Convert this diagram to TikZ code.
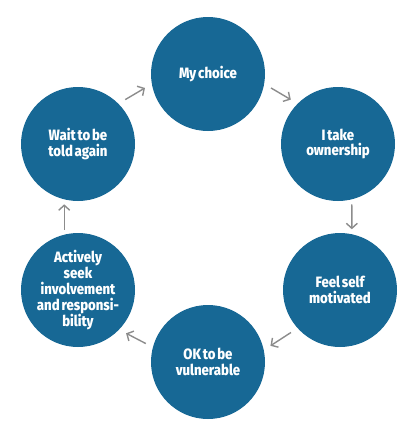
\documentclass[tikz,border=0pt]{standalone}
\usepackage{fontspec}
\setmainfont{Fira Sans}[FakeStretch=0.88,WordSpace=0.6,BoldFont={Fira Sans ExtraBold}]
\usetikzlibrary{arrows.meta}
\definecolor{stageblue}{HTML}{176895}
\definecolor{cyclegray}{HTML}{8C8C8C}

\begin{document}
\begin{tikzpicture}[x=1pt,y=-1pt,
  stage/.style={circle, fill=stageblue, minimum size=114pt, inner sep=0pt, outer sep=0pt,
    text=white, align=center, font=\fontsize{15}{15.8}\selectfont\bfseries},
  cyc/.style={draw=cyclegray, line width=1.4pt, -{Straight Barb[length=5pt,width=11pt]},
    shorten <=8pt, shorten >=8pt}]
\useasboundingbox (0,0) rectangle (410,432);
\node[stage] (choice) at (208,74)  {My choice};
\node[stage] (owner)  at (338,144) {I take\\ownership};
\node[stage] (motiv)  at (340,290) {Feel self\\motivated};
\node[stage] (vulner) at (208,362) {OK to be\\vulnerable};
\node[stage] (seek)   at (78,290)  {Actively\\seek\\involvement\\and responsi-\\bility};
\node[stage] (wait)   at (78,144)  {Wait to be\\told again};
%
\draw[cyc] (wait.45) -- (choice.190);
\draw[cyc] (choice.-10) -- (owner.135);
\draw[cyc, shorten <=5pt, shorten >=5pt] (owner.-76) -- (motiv.78);
\draw[cyc] (motiv.222) -- (vulner.12);
\draw[cyc] (vulner.165) -- (seek.-44);
\draw[cyc, shorten <=5pt, shorten >=5pt] (seek.104) -- (wait.256);
%
\end{tikzpicture}
\end{document}
